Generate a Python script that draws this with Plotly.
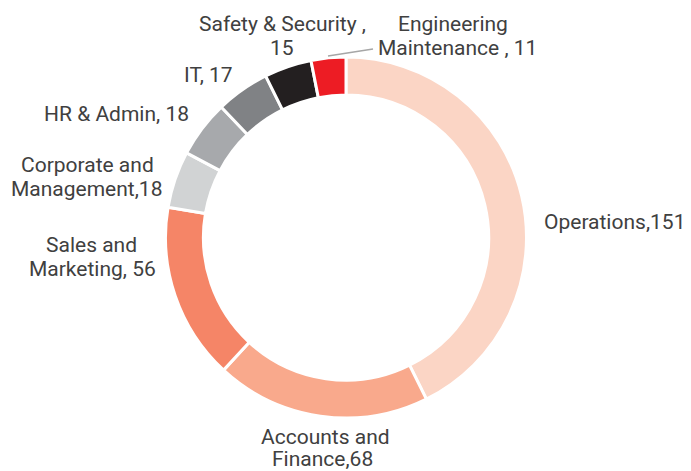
import plotly.graph_objects as go

# Browser window and default 8px body margin
WIN_W, WIN_H = 691, 471
OFF = 8
W, H = WIN_W - OFF, WIN_H - OFF

departments = ["Operations", "Accounts and Finance", "Sales and Marketing",
               "Corporate and Management", "HR & Admin", "IT",
               "Safety & Security", "Engineering Maintenance"]
headcount = [151, 68, 56, 18, 18, 17, 15, 11]
label_lines = [["Operations,151"],
               ["Accounts and", "Finance,68"],
               ["Sales and", "Marketing, 56"],
               ["Corporate and", "Management,18"],
               ["HR & Admin, 18"],
               ["IT, 17"],
               ["Safety & Security ,", "15"],
               ["Engineering", "Maintenance , 11"]]

colors = ["#FBD5C5", "#F9A98C", "#F58567", "#D1D3D4", "#A7A9AC",
          "#808285", "#231F20", "#ED1C24"]

# label line centers in window pixels: list of (x, y) per line
label_px = [[(614.5, 222)],
            [(325, 436.5), (322, 459)],
            [(91, 245), (92.5, 269)],
            [(87.5, 165), (86.5, 188.5)],
            [(116, 114.5)],
            [(208.5, 74.5)],
            [(282, 24), (282, 47.5)],
            [(452.5, 24), (457.5, 47.5)]]

cx, cy, R = 346, 237.5, 180.5


def px2paper(x, y):
    return (x - OFF) / W, 1 - (y - OFF) / H


x0, y1 = px2paper(cx - R, cy - R)
x1, y0 = px2paper(cx + R, cy + R)

fig = go.Figure(go.Pie(
    labels=departments, values=headcount, sort=False, direction="clockwise",
    rotation=0, hole=0.79, textinfo="none", hoverinfo="label+value",
    marker=dict(colors=colors, line=dict(color="white", width=3)),
    domain=dict(x=[x0, x1], y=[y0, y1]),
    showlegend=False,
))

for lines, pos in zip(label_lines, label_px):
    for txt, (px, py) in zip(lines, pos):
        ax, ay = px2paper(px, py)
        fig.add_annotation(text=txt, x=ax, y=ay, xref="paper", yref="paper",
                           showarrow=False, xanchor="center", yanchor="middle",
                           font=dict(family="Roboto", size=21, color="#404040"))

lx0, ly0 = px2paper(328, 56)
lx1, ly1 = px2paper(373, 49)
fig.add_shape(type="line", xref="paper", yref="paper",
              x0=lx0, y0=ly0, x1=lx1, y1=ly1,
              line=dict(color="#A6A6A6", width=1.5))

fig.update_layout(width=W, height=H, margin=dict(l=0, r=0, t=0, b=0),
                  paper_bgcolor="white", plot_bgcolor="white")

fig.write_html("out.html")
